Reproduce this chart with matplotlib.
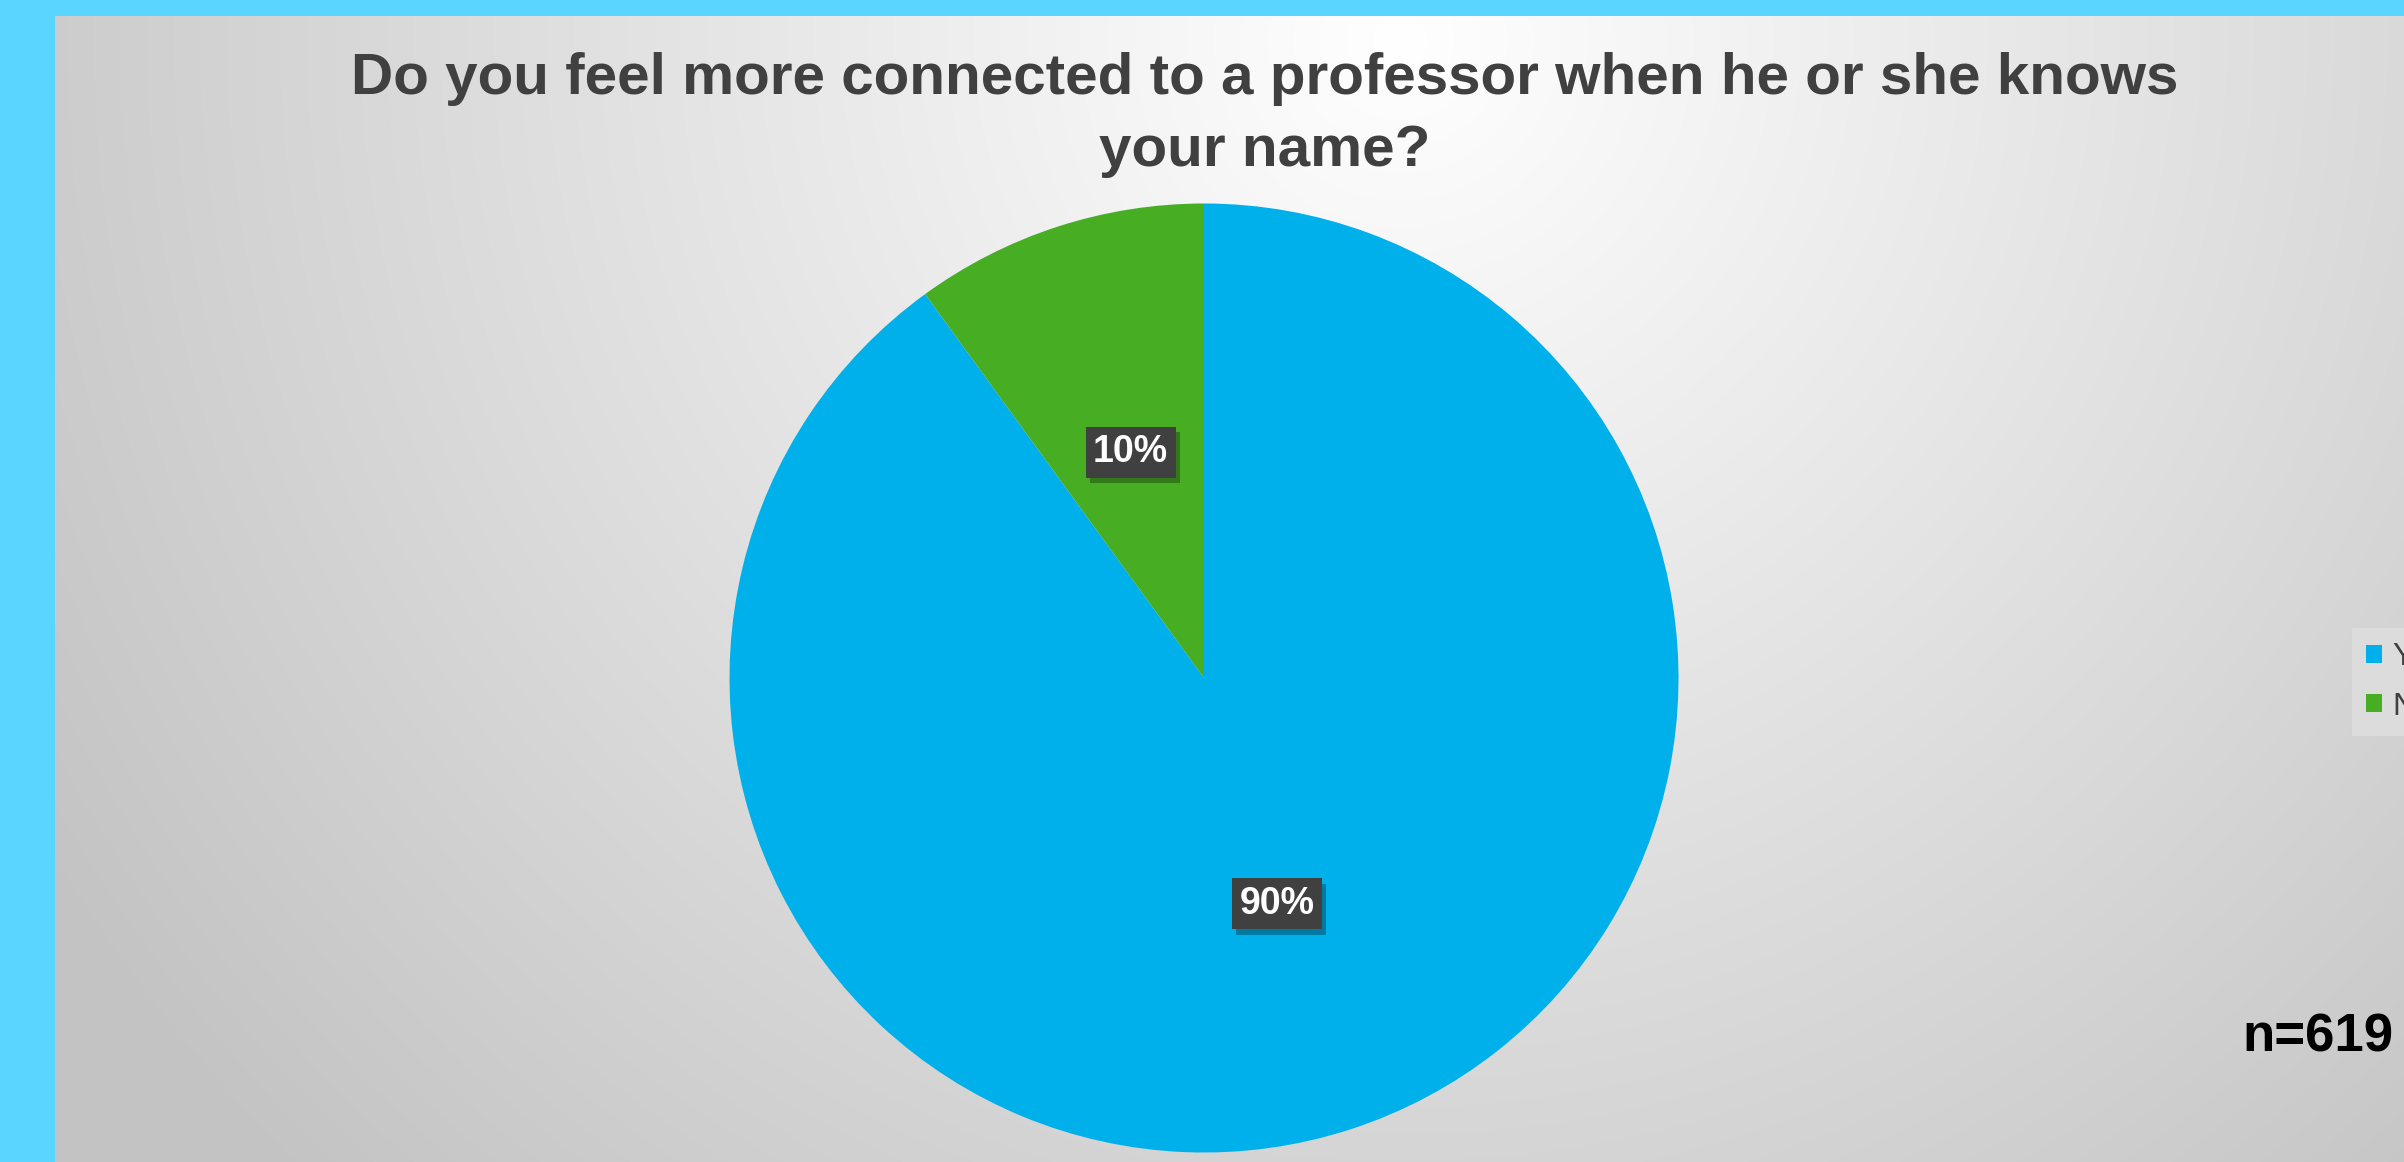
import numpy as np
import matplotlib
matplotlib.use('Agg')
from matplotlib import pyplot as plt
from matplotlib import patheffects as pe

answers = ['Yes', 'No']
shares = [90, 10]
colors = ['#00B0EA', '#47AE24']
title = 'Do you feel more connected to a professor when he or she knows\nyour name?'
n_text = 'n=619'

W, H = 2404, 1162
plt.rcParams['font.family'] = ['Liberation Sans', 'DejaVu Sans']

fig = plt.figure(figsize=(W / 100, H / 100), dpi=100)
fig.patch.set_facecolor('#5AD5FF')
ax = fig.add_axes([0, 0, 1, 1])

# gray radial background panel
xs = np.arange(55, W)
ys = np.arange(16, H)
X, Y = np.meshgrid(xs, ys)
r = np.sqrt((X - 1400) ** 2 + (Y - 40) ** 2) / 1600
v = 255 - 60 * np.clip(r, 0, 1)
img = np.dstack([v, v, v]).astype(np.uint8)
ax.imshow(img, extent=(55, W, 0, H - 16), origin='upper', zorder=0)

wedges, texts, autotexts = ax.pie(
    shares, colors=colors, startangle=90, counterclock=False,
    center=(1204, H - 678), radius=474.5, autopct='%d%%', pctdistance=0.5,
    textprops=dict(color='white', fontsize=27, fontweight='bold'),
    wedgeprops=dict(linewidth=0))
for t in autotexts:
    t.set_bbox(dict(boxstyle='square,pad=0.2', facecolor='#404040', edgecolor='none'))
    t.get_bbox_patch().set_path_effects([pe.SimplePatchShadow(offset=(3, -4), shadow_rgbFace='black', alpha=0.3), pe.Normal()])

ax.set_xlim(0, W)
ax.set_ylim(0, H)
ax.set_aspect('auto')
ax.axis('off')

ax.text(1265, H - 115, title, ha='center', va='center', fontsize=42,
        fontweight='bold', color='#404040', linespacing=1.42)
ax.text(2242, H - 1038, n_text, ha='left', va='center', fontsize=38,
        fontweight='bold', color='black')

leg = ax.legend(wedges, answers, loc='upper left',
                bbox_to_anchor=(2352 / W, 1 - 628 / H), fontsize=23,
                frameon=True, fancybox=False, handlelength=0.5, handleheight=0.5,
                handletextpad=0.3, labelspacing=0.6, borderpad=0.45,
                borderaxespad=0)
leg.get_frame().set_facecolor('#DCDCDC')
leg.get_frame().set_edgecolor('none')
leg.get_frame().set_alpha(1)
for t in leg.get_texts():
    t.set_color('#404040')

fig.savefig('out.png', dpi=100)
